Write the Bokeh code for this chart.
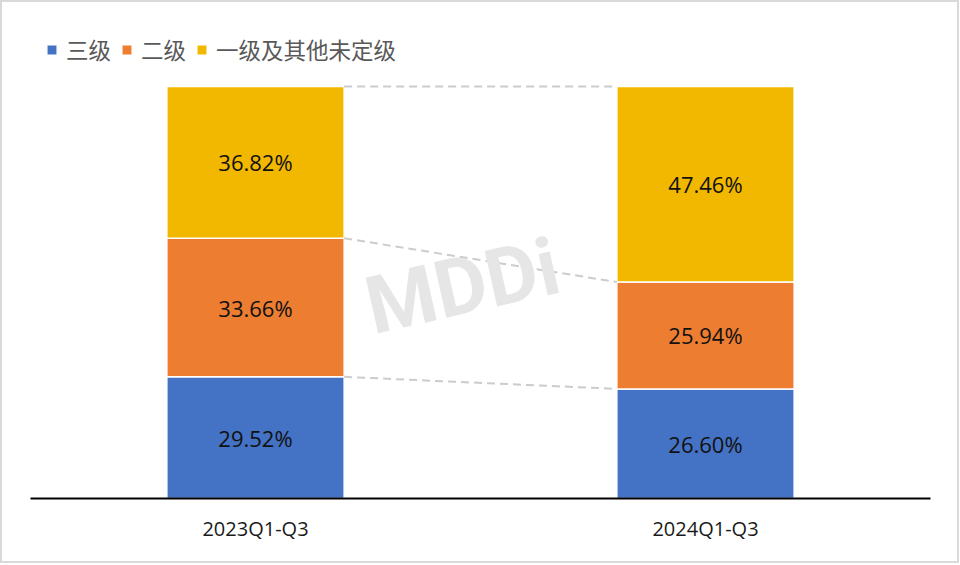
from bokeh.plotting import figure
from bokeh.models import ColumnDataSource, LabelSet, Legend, LegendItem, Label, FactorRange, Range1d
from bokeh.core.properties import value
from bokeh.embed import file_html
from bokeh.resources import INLINE

# ---- data ----
categories = ["2023Q1-Q3", "2024Q1-Q3"]
series_names = ["三级", "二级", "一级及其他未定级"]
level3 = [29.52, 26.60]
level2 = [33.66, 25.94]
level1_other = [36.82, 47.46]
colors = ["#4472C4", "#ED7D31", "#F2B800"]

keys = ["l3", "l2", "l1"]
src = ColumnDataSource(dict(cat=categories, l3=level3, l2=level2, l1=level1_other))

W, H = 959, 563
p = figure(x_range=FactorRange(*categories), y_range=Range1d(0, 115.53),
           width=W, height=H, output_backend="svg", toolbar_location=None,
           min_border_left=28, min_border_right=31, min_border_top=20, min_border_bottom=67)
p.styles = {"border": "2px solid #d9d9d9", "box-sizing": "border-box"}
p.outline_line_color = None
p.xgrid.visible = False
p.ygrid.visible = False
p.yaxis.visible = False

bar_w = 0.394
rs = p.vbar_stack(keys, x="cat", width=bar_w, color=colors, source=src,
                  line_color="white", line_width=1.5)

# connectors between cumulative boundaries
cum1 = [level3[0], level3[0] + level2[0], level3[0] + level2[0] + level1_other[0]]
cum2 = [level3[1], level3[1] + level2[1], level3[1] + level2[1] + level1_other[1]]
x_left = [0.5 + bar_w / 2] * 3
x_right = [1.5 - bar_w / 2] * 3
p.segment(x0=x_left, y0=cum1, x1=x_right, y1=cum2, line_color="#cccccc",
          line_width=2, line_dash="8 5")

# data labels
lx, ly, lt = [], [], []
for i, c in enumerate(categories):
    base = 0
    for vals in (level3, level2, level1_other):
        lx.append(c)
        ly.append(base + vals[i] / 2)
        lt.append(f"{vals[i]:.2f}%")
        base += vals[i]
lsrc = ColumnDataSource(dict(x=lx, y=ly, t=lt))
p.add_layout(LabelSet(x="x", y="y", text="t", source=lsrc, text_align="center",
                      text_baseline="middle", text_font=value("Open Sans"),
                      text_font_size=value("22px"), text_color="#111111"))

# watermark
p.add_layout(Label(x=432, y=212, x_units="screen", y_units="screen", text="MDDi",
                   angle=0.22, text_align="center", text_baseline="middle",
                   text_font="Roboto", text_font_style="bold", text_font_size="80px",
                   text_color="#e6e6e6"))

# axis
ax = p.xaxis[0]
ax.axis_line_color = "black"
ax.axis_line_width = 2
ax.major_tick_line_color = None
ax.minor_tick_line_color = None
ax.major_label_text_font = "Open Sans"
ax.major_label_text_font_size = "20px"
ax.major_label_text_color = "#1a1a1a"
ax.major_label_standoff = 10

legend = Legend(items=[LegendItem(label=n, renderers=[r]) for n, r in zip(series_names, rs)],
                orientation="horizontal", location=(15, 433),
                glyph_width=13, glyph_height=13, label_standoff=8, spacing=9,
                padding=0, margin=0, border_line_color=None, background_fill_alpha=0,
                label_text_font="Noto Sans CJK SC", label_text_font_size="22.5px",
                label_text_color="#595959")
p.add_layout(legend)

open("out.html", "w").write(file_html(p, INLINE))
